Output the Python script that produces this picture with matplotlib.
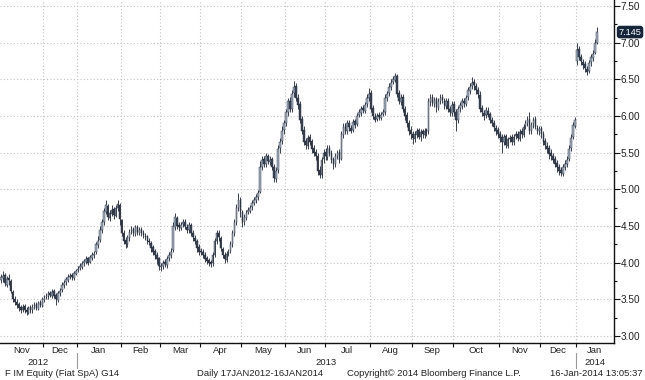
import numpy as np
import pandas as pd
import matplotlib
matplotlib.use("Agg")
import matplotlib.pyplot as plt
import matplotlib.transforms as mtransforms

# === DATA ===
START, END = "2012-11-01", "2014-01-16"
HOLIDAYS = ["2012-12-24", "2012-12-25", "2012-12-26", "2012-12-31", "2013-01-01",
            "2013-03-29", "2013-04-01", "2013-05-01", "2013-08-15",
            "2013-12-24", "2013-12-25", "2013-12-26", "2013-12-31", "2014-01-01"]

open_px = [
    # Nov 2012
    3.76, 3.79, 3.83, 3.70, 3.79, 3.75, 3.60, 3.51, 3.47, 3.43, 3.39, 3.35, 3.41, 3.36, 3.32, 3.39, 3.35, 3.41, 3.43, 3.37, 3.46, 3.41,
    # Dec 2012
    3.49, 3.53, 3.54, 3.59, 3.55, 3.61, 3.56, 3.49, 3.59, 3.63, 3.69, 3.73, 3.77, 3.81, 3.83, 3.79, 3.85,
    # Jan 2013
    3.90, 3.93, 3.94, 3.99, 4.01, 4.06, 4.01, 4.07, 4.11, 4.14, 4.24, 4.31, 4.44, 4.56, 4.69, 4.77, 4.61, 4.67, 4.73, 4.64, 4.74, 4.79,
    # Feb
    4.58, 4.41, 4.31, 4.26, 4.34, 4.43, 4.46, 4.39, 4.49, 4.41, 4.46, 4.41, 4.37, 4.36, 4.29, 4.27, 4.21, 4.16, 4.11, 4.06,
    # Mar
    3.94, 3.96, 4.01, 3.97, 4.06, 4.11, 4.17, 4.49, 4.61, 4.51, 4.47, 4.53, 4.56, 4.49, 4.44, 4.51, 4.41, 4.34, 4.29, 4.21,
    # Apr
    4.16, 4.14, 4.11, 4.06, 4.03, 4.01, 3.99, 4.11, 4.29, 4.41, 4.34, 4.19, 4.11, 4.04, 4.13, 4.16, 4.26, 4.41, 4.56, 4.74, 4.86,
    # May
    4.69, 4.56, 4.61, 4.69, 4.71, 4.76, 4.81, 4.86, 4.89, 4.97, 5.31, 5.41, 5.34, 5.46, 5.37, 5.41, 5.31, 5.14, 5.26, 5.56, 5.66, 5.81,
    # Jun
    5.91, 6.06, 6.21, 6.09, 6.31, 6.41, 6.24, 6.16, 5.96, 5.81, 5.66, 5.59, 5.71, 5.66, 5.56, 5.51, 5.46, 5.26, 5.19, 5.41,
    # Jul
    5.51, 5.44, 5.56, 5.49, 5.41, 5.34, 5.46, 5.51, 5.42, 5.74, 5.86, 5.79, 5.91, 5.84, 5.81, 5.93, 5.89, 6.01, 6.04, 6.11, 6.07, 6.16, 6.24,
    # Aug
    6.31, 6.11, 5.99, 5.96, 6.01, 5.97, 6.03, 6.06, 6.24, 6.31, 6.39, 6.46, 6.49, 6.54, 6.31, 6.19, 6.26, 6.09, 6.01, 5.91, 5.81,
    # Sep
    5.76, 5.69, 5.74, 5.81, 5.71, 5.79, 5.74, 5.81, 5.80, 6.19, 6.26, 6.17, 6.23, 6.11, 6.21, 6.26, 6.21, 6.14, 6.21, 6.09, 6.04,
    # Oct
    6.16, 6.06, 5.94, 6.11, 6.14, 6.21, 6.17, 6.26, 6.34, 6.41, 6.46, 6.41, 6.36, 6.29, 6.11, 6.04, 6.01, 6.07, 6.03, 5.94, 5.91, 5.84, 5.81,
    # Nov
    5.76, 5.71, 5.64, 5.73, 5.59, 5.69, 5.71, 5.64, 5.73, 5.76, 5.69, 5.79, 5.74, 5.86, 5.91, 5.96, 5.79, 5.89, 5.96, 5.84, 5.79,
    # Dec
    5.83, 5.76, 5.66, 5.59, 5.56, 5.49, 5.46, 5.41, 5.36, 5.31, 5.26, 5.21, 5.31, 5.34, 5.41, 5.56, 5.71, 5.87,
    # Jan 2014
    6.75, 6.92, 6.81, 6.74, 6.71, 6.64, 6.61, 6.73, 6.79, 6.86, 7.00,
]

high_px = [
    3.84, 3.88, 3.86, 3.82, 3.84, 3.78, 3.63, 3.55, 3.50, 3.46, 3.42, 3.44, 3.44, 3.39, 3.41, 3.42, 3.43, 3.46, 3.46, 3.48, 3.49, 3.53,
    3.56, 3.58, 3.62, 3.62, 3.64, 3.64, 3.59, 3.61, 3.66, 3.74, 3.76, 3.81, 3.84, 3.86, 3.86, 3.89, 3.92,
    3.96, 3.99, 4.02, 4.05, 4.09, 4.08, 4.11, 4.14, 4.16, 4.28, 4.36, 4.50, 4.60, 4.74, 4.85, 4.80, 4.72, 4.78, 4.76, 4.79, 4.86, 4.82,
    4.60, 4.45, 4.35, 4.38, 4.46, 4.50, 4.49, 4.52, 4.52, 4.48, 4.49, 4.44, 4.40, 4.38, 4.33, 4.30, 4.24, 4.19, 4.14, 4.08,
    4.00, 4.04, 4.05, 4.09, 4.14, 4.20, 4.55, 4.68, 4.64, 4.56, 4.56, 4.60, 4.60, 4.53, 4.56, 4.54, 4.44, 4.38, 4.32, 4.25,
    4.20, 4.18, 4.14, 4.09, 4.06, 4.04, 4.14, 4.34, 4.44, 4.45, 4.37, 4.22, 4.14, 4.16, 4.19, 4.29, 4.45, 4.60, 4.80, 4.95, 4.90,
    4.72, 4.66, 4.72, 4.76, 4.79, 4.86, 4.89, 4.94, 4.99, 5.38, 5.46, 5.45, 5.50, 5.48, 5.45, 5.44, 5.34, 5.30, 5.60, 5.70, 5.86, 5.95,
    6.10, 6.25, 6.26, 6.35, 6.48, 6.45, 6.30, 6.20, 6.00, 5.86, 5.70, 5.74, 5.75, 5.69, 5.60, 5.55, 5.50, 5.32, 5.44, 5.55,
    5.56, 5.60, 5.60, 5.54, 5.44, 5.49, 5.54, 5.55, 5.80, 5.90, 5.90, 5.94, 5.95, 5.88, 5.96, 5.96, 6.04, 6.09, 6.14, 6.15, 6.19, 6.30, 6.38,
    6.35, 6.15, 6.04, 6.04, 6.05, 6.05, 6.09, 6.30, 6.34, 6.45, 6.50, 6.54, 6.58, 6.57, 6.36, 6.30, 6.30, 6.14, 6.05, 5.95, 5.86,
    5.80, 5.79, 5.84, 5.84, 5.82, 5.82, 5.84, 5.84, 6.25, 6.30, 6.30, 6.26, 6.26, 6.24, 6.30, 6.30, 6.25, 6.25, 6.24, 6.14, 6.20,
    6.20, 6.10, 6.14, 6.19, 6.24, 6.25, 6.29, 6.39, 6.45, 6.53, 6.50, 6.45, 6.40, 6.34, 6.15, 6.08, 6.12, 6.12, 6.06, 5.98, 5.95, 5.88, 5.85,
    5.80, 5.75, 5.76, 5.76, 5.72, 5.74, 5.75, 5.76, 5.79, 5.80, 5.82, 5.83, 5.89, 5.95, 6.00, 6.05, 5.92, 5.98, 6.00, 5.88, 5.86,
    5.86, 5.80, 5.70, 5.64, 5.60, 5.55, 5.50, 5.45, 5.40, 5.35, 5.30, 5.34, 5.40, 5.45, 5.60, 5.75, 5.92, 5.98,
    7.00, 6.95, 6.85, 6.78, 6.75, 6.68, 6.76, 6.84, 6.90, 7.05, 7.22,
]

low_px = [
    3.72, 3.74, 3.68, 3.67, 3.70, 3.58, 3.47, 3.42, 3.38, 3.34, 3.32, 3.33, 3.31, 3.29, 3.30, 3.31, 3.32, 3.37, 3.35, 3.35, 3.39, 3.39,
    3.46, 3.50, 3.51, 3.53, 3.52, 3.52, 3.42, 3.46, 3.55, 3.60, 3.66, 3.70, 3.74, 3.78, 3.76, 3.77, 3.83,
    3.87, 3.90, 3.92, 3.96, 3.98, 3.97, 3.99, 4.04, 4.07, 4.12, 4.20, 4.28, 4.40, 4.52, 4.66, 4.58, 4.57, 4.63, 4.60, 4.62, 4.70, 4.52,
    4.36, 4.26, 4.20, 4.22, 4.30, 4.39, 4.36, 4.36, 4.38, 4.38, 4.37, 4.34, 4.31, 4.26, 4.24, 4.15, 4.11, 4.05, 3.98, 3.90,
    3.89, 3.92, 3.94, 3.93, 4.02, 4.07, 4.14, 4.45, 4.46, 4.43, 4.44, 4.49, 4.46, 4.40, 4.41, 4.36, 4.30, 4.25, 4.15, 4.10,
    4.11, 4.06, 4.01, 3.98, 3.96, 3.94, 3.96, 4.08, 4.26, 4.30, 4.16, 4.06, 4.00, 4.01, 4.09, 4.13, 4.22, 4.37, 4.52, 4.70, 4.62,
    4.48, 4.52, 4.58, 4.66, 4.68, 4.72, 4.78, 4.82, 4.86, 4.95, 5.26, 5.30, 5.30, 5.34, 5.33, 5.26, 5.10, 5.10, 5.22, 5.50, 5.62, 5.76,
    5.86, 6.00, 6.05, 6.05, 6.26, 6.20, 6.10, 5.90, 5.75, 5.60, 5.55, 5.55, 5.60, 5.50, 5.45, 5.40, 5.20, 5.15, 5.16, 5.36,
    5.40, 5.40, 5.46, 5.36, 5.28, 5.30, 5.42, 5.36, 5.40, 5.70, 5.76, 5.75, 5.80, 5.77, 5.78, 5.84, 5.86, 5.98, 6.00, 6.04, 6.04, 6.12, 6.20,
    6.05, 5.96, 5.92, 5.93, 5.94, 5.94, 6.00, 6.02, 6.20, 6.27, 6.36, 6.43, 6.46, 6.26, 6.16, 6.15, 6.05, 5.95, 5.85, 5.74, 5.68,
    5.62, 5.64, 5.70, 5.68, 5.66, 5.70, 5.70, 5.73, 5.76, 6.14, 6.13, 6.12, 6.06, 6.08, 6.16, 6.18, 6.10, 6.10, 6.05, 6.00, 6.00,
    6.00, 5.80, 5.90, 6.06, 6.10, 6.12, 6.14, 6.22, 6.30, 6.37, 6.36, 6.30, 6.24, 6.05, 6.00, 5.95, 5.97, 5.98, 5.90, 5.86, 5.80, 5.74, 5.70,
    5.64, 5.50, 5.60, 5.56, 5.56, 5.64, 5.60, 5.60, 5.68, 5.66, 5.66, 5.70, 5.72, 5.82, 5.86, 5.76, 5.76, 5.84, 5.82, 5.76, 5.74,
    5.70, 5.60, 5.55, 5.50, 5.42, 5.40, 5.36, 5.30, 5.24, 5.20, 5.18, 5.18, 5.26, 5.30, 5.38, 5.52, 5.68, 5.84,
    6.70, 6.76, 6.70, 6.64, 6.60, 6.56, 6.58, 6.68, 6.75, 6.84, 6.98,
]

close_px = [
    3.80, 3.82, 3.72, 3.78, 3.76, 3.62, 3.50, 3.46, 3.42, 3.38, 3.36, 3.40, 3.35, 3.33, 3.38, 3.36, 3.40, 3.42, 3.38, 3.45, 3.42, 3.50,
    3.52, 3.55, 3.58, 3.56, 3.60, 3.55, 3.50, 3.58, 3.62, 3.70, 3.72, 3.78, 3.80, 3.82, 3.80, 3.86, 3.88,
    3.92, 3.95, 3.98, 4.02, 4.05, 4.00, 4.08, 4.10, 4.12, 4.25, 4.30, 4.45, 4.55, 4.70, 4.78, 4.62, 4.68, 4.72, 4.65, 4.75, 4.80, 4.60,
    4.40, 4.30, 4.25, 4.35, 4.42, 4.45, 4.40, 4.48, 4.42, 4.45, 4.40, 4.38, 4.35, 4.30, 4.28, 4.20, 4.15, 4.10, 4.05, 3.95,
    3.95, 4.00, 3.98, 4.05, 4.10, 4.15, 4.50, 4.62, 4.50, 4.48, 4.52, 4.55, 4.50, 4.45, 4.52, 4.40, 4.35, 4.30, 4.20, 4.15,
    4.15, 4.10, 4.05, 4.02, 4.00, 3.98, 4.10, 4.30, 4.40, 4.35, 4.20, 4.10, 4.05, 4.12, 4.15, 4.25, 4.40, 4.55, 4.75, 4.85, 4.70,
    4.55, 4.62, 4.68, 4.72, 4.75, 4.82, 4.85, 4.90, 4.95, 5.30, 5.40, 5.35, 5.45, 5.38, 5.40, 5.30, 5.15, 5.25, 5.55, 5.65, 5.80, 5.90,
    6.05, 6.20, 6.10, 6.30, 6.40, 6.25, 6.15, 5.95, 5.80, 5.65, 5.60, 5.70, 5.65, 5.55, 5.50, 5.45, 5.25, 5.20, 5.40, 5.50,
    5.45, 5.55, 5.50, 5.40, 5.35, 5.45, 5.50, 5.40, 5.75, 5.85, 5.80, 5.90, 5.85, 5.80, 5.92, 5.88, 6.00, 6.05, 6.10, 6.08, 6.15, 6.25, 6.30,
    6.10, 6.00, 5.95, 6.00, 5.98, 6.02, 6.05, 6.25, 6.30, 6.40, 6.45, 6.50, 6.55, 6.30, 6.20, 6.25, 6.10, 6.00, 5.90, 5.80, 5.75,
    5.70, 5.75, 5.80, 5.72, 5.78, 5.75, 5.80, 5.78, 6.20, 6.25, 6.18, 6.22, 6.12, 6.20, 6.25, 6.22, 6.15, 6.20, 6.10, 6.05, 6.15,
    6.05, 5.95, 6.10, 6.15, 6.20, 6.18, 6.25, 6.35, 6.40, 6.45, 6.42, 6.35, 6.30, 6.10, 6.05, 6.00, 6.08, 6.02, 5.95, 5.90, 5.85, 5.80, 5.75,
    5.70, 5.65, 5.72, 5.60, 5.68, 5.70, 5.65, 5.72, 5.75, 5.70, 5.78, 5.75, 5.85, 5.90, 5.95, 5.80, 5.88, 5.95, 5.85, 5.80, 5.82,
    5.75, 5.65, 5.60, 5.55, 5.48, 5.45, 5.40, 5.35, 5.30, 5.25, 5.22, 5.30, 5.35, 5.40, 5.55, 5.70, 5.88, 5.95,
    6.90, 6.80, 6.75, 6.70, 6.65, 6.60, 6.72, 6.80, 6.85, 7.00, 7.145,
]

LAST_PRICE = 7.145
Y_TICKS = [3.00, 3.50, 4.00, 4.50, 5.00, 5.50, 6.00, 6.50, 7.00, 7.50]
FOOTER = ["F IM Equity (Fiat SpA) G14", "Daily 17JAN2012-16JAN2014",
          "Copyright\u00a9 2014 Bloomberg Finance L.P.", "16-Jan-2014 13:05:37"]

# === STYLE ===
FONT = "Liberation Sans"
TXT = "#222222"
UP_FILL, DOWN_FILL, EDGE = "#a3b2c6", "#3a4658", "#1b2433"
GRID = "#c4c4c4"

dates = pd.bdate_range(START, END)
dates = dates[~dates.isin(pd.to_datetime(HOLIDAYS))]
n = min(len(dates), len(close_px), len(open_px), len(high_px), len(low_px))
dates = dates[:n]
o = np.array(open_px[:n]); h = np.array(high_px[:n])
l = np.array(low_px[:n]); c = np.array(close_px[:n])
x = np.arange(n)

fig = plt.figure(figsize=(6.45, 3.80), dpi=100)
ax = fig.add_axes([0.0, 37 / 380, 614 / 645, 343 / 380])
XL = (-0.39, 309.7)
ax.set_xlim(*XL)
ax.set_ylim(2.905, 7.582)

# month boundaries
per = dates.to_period("M")
starts = [i for i in range(n) if i == 0 or per[i] != per[i - 1]]
bounds = [s - 0.5 for s in starts[1:]]
edges = [XL[0]] + bounds + [XL[1]]
centers = [(edges[i] + edges[i + 1]) / 2 for i in range(len(edges) - 1)]
mlabels = [dates[s].strftime("%b") for s in starts]

# grid
ax.set_xticks(bounds)
ax.set_xticklabels([])
ax.set_yticks(Y_TICKS)
ax.set_yticks(np.arange(3.25, 7.6, 0.5), minor=True)
ax.grid(True, which="major", color=GRID, linestyle=(0, (1, 2)), linewidth=0.8)
ax.set_axisbelow(True)

# candles
up = c >= o
ax.vlines(x, l, h, color=EDGE, linewidth=0.6, zorder=2)
body_lo = np.minimum(o, c)
body_h = np.maximum(np.abs(c - o), 0.012)
ax.bar(x[up], body_h[up], bottom=body_lo[up], width=0.8, color=UP_FILL,
       edgecolor=EDGE, linewidth=0.3, zorder=3)
ax.bar(x[~up], body_h[~up], bottom=body_lo[~up], width=0.8, color=DOWN_FILL,
       edgecolor=EDGE, linewidth=0.3, zorder=3)

# spines / ticks
for s in ["top", "left"]:
    ax.spines[s].set_visible(False)
for s in ["right", "bottom"]:
    ax.spines[s].set_color("#111111")
    ax.spines[s].set_linewidth(1.0)
ax.yaxis.tick_right()
ax.tick_params(axis="y", which="major", direction="out", length=4, width=0.8,
               colors="#111111", labelcolor=TXT, labelsize=7.2, pad=1)
ax.tick_params(axis="y", which="minor", direction="out", length=2, width=0.8, colors="#111111")
ax.tick_params(axis="x", direction="out", length=3, width=0.8, colors="#111111")
ax.set_yticklabels([f"{v:.2f}" for v in Y_TICKS], fontname=FONT)

# month / year labels
tr = mtransforms.blended_transform_factory(ax.transData, ax.transAxes)
for cx, lab in zip(centers, mlabels):
    ax.text(cx, -0.021, lab, transform=tr, ha="center", va="center",
            fontsize=6.8, color=TXT, fontname=FONT, clip_on=False)

years = dates.year[:n]
ystarts = [i for i in range(n) if i == 0 or years[i] != years[i - 1]]
yedges = [XL[0]] + [s - 0.5 for s in ystarts[1:]] + [XL[1]]
for k, s in enumerate(ystarts):
    cx = (yedges[k] + yedges[k + 1]) / 2
    ax.text(cx, -0.056, str(years[s]), transform=tr, ha="center", va="center",
            fontsize=6.8, color=TXT, fontname=FONT, clip_on=False)
for b in yedges[1:-1]:
    ax.plot([b, b], [-0.03, -0.072], transform=tr, color="#9a9a9a",
            linewidth=0.8, clip_on=False)

# last price tag
ax.text(1.0075, LAST_PRICE, f"{LAST_PRICE:.3f}",
        transform=mtransforms.blended_transform_factory(ax.transAxes, ax.transData),
        ha="left", va="center", fontsize=6.6, color="white", fontname=FONT,
        bbox=dict(boxstyle="round,pad=0.12,rounding_size=0.25", fc="#14263b", ec="#14263b"),
        clip_on=False)

# footer
fy = 1 - 374 / 380
fig.text(5 / 645, fy, FOOTER[0], ha="left", va="center", fontsize=6.8, color=TXT, fontname=FONT)
fig.text(197 / 645, fy, FOOTER[1], ha="left", va="center", fontsize=6.8, color=TXT, fontname=FONT)
fig.text(347 / 645, fy, FOOTER[2], ha="left", va="center", fontsize=6.8, color=TXT, fontname=FONT)
fig.text(643 / 645, fy, FOOTER[3], ha="right", va="center", fontsize=6.8, color=TXT, fontname=FONT)

fig.savefig("out.png", dpi=100, facecolor="white")
